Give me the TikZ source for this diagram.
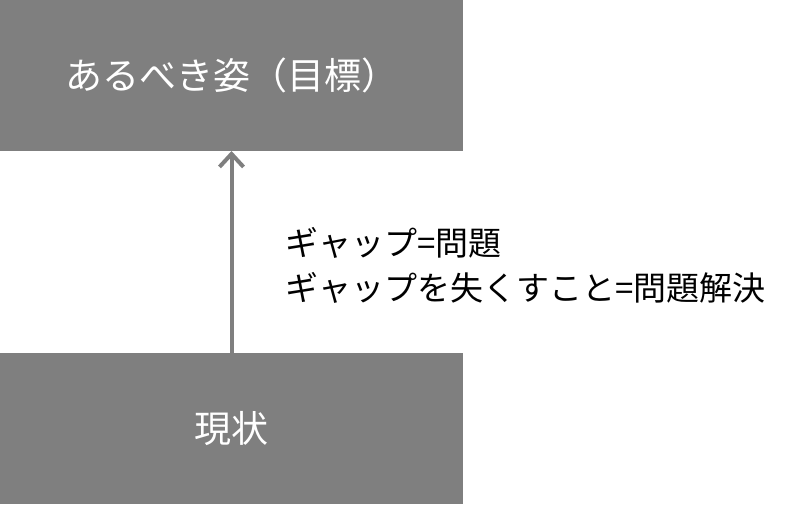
\documentclass[tikz,border=0pt]{standalone}
\usepackage{fontspec}
\newfontfamily\jpfont{Noto Sans CJK JP}
\usetikzlibrary{arrows.meta}
\definecolor{boxgray}{HTML}{7F7F7F}
\begin{document}
\begin{tikzpicture}[x=1pt,y=1pt,
    stagebox/.style={fill=boxgray, text=white, minimum width=463pt, minimum height=151pt,
      inner sep=0pt, outer sep=0pt, font=\jpfont\fontsize{37}{42}\selectfont},
    gaparrow/.style={draw=boxgray, line width=4pt,
      -{Straight Barb[length=13pt,width=24pt,line width=4pt]}}]
  \useasboundingbox (0,0) rectangle (797,505);
  % Boxes
  \node[stagebox] (goal) at (231.5, 429.5) {あるべき姿（目標）};
  \node[stagebox] (now) at (231.5, 76) {現状};
  % Gap text
  \node[anchor=west, align=left, inner sep=0pt,
        font=\jpfont\fontsize{33}{45}\selectfont] (gap) at (285, 240)
       {ギャップ=問題\\ギャップを失くすこと=問題解決};
  \draw[gaparrow] (now) -- (goal);
\end{tikzpicture}
\end{document}
